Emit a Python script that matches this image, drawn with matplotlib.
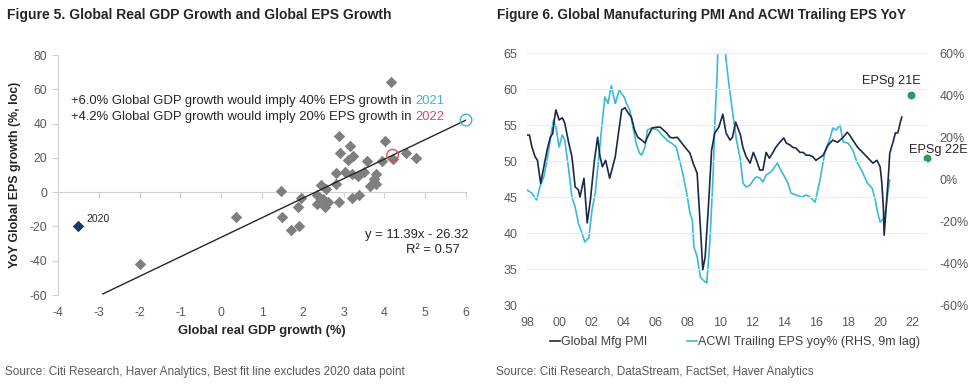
import matplotlib
matplotlib.use("Agg")
import matplotlib.pyplot as plt
from matplotlib.ticker import FuncFormatter, FixedLocator

plt.rcParams['font.family'] = ['Liberation Sans', 'DejaVu Sans']
plt.rcParams['axes.unicode_minus'] = False

# ---------------- Figure 5 data ----------------
gdp = [4.15, 2.89, 3.15, 2.91, 4.02, 3.12, 3.24, 3.58, 3.95, 4.20, 4.53, 4.78,
       2.81, 3.04, 3.20, 3.36, 3.50, 3.80, 3.75, 2.82, 2.45, 2.57, 3.65, 3.80,
       1.46, 2.36, 1.96, 2.35, 2.50, 2.62, 2.55, 2.89, 3.21, 3.38, 1.89, 1.50,
       1.71, 1.91, 0.37, -1.99]
eps = [64.5, 32.5, 27.0, 23.0, 29.6, 19.0, 21.0, 18.0, 18.0, 19.5, 23.0, 20.0,
       11.0, 12.0, 10.5, 9.5, 12.0, 10.5, 7.5, 5.0, 4.3, 1.7, 3.5, 4.6,
       0.5, -1.5, -3.5, -7.0, -4.0, -5.5, -8.7, -5.8, -3.2, -1.7, -8.5, -14.5,
       -22.0, -20.0, -14.5, -42.0]
gdp_2020, eps_2020 = -3.5, -20.0
fit_slope, fit_icpt = 11.39, -26.32
fit_x = [-2.9, 6.0]
gdp_2021, gdp_2022 = 6.0, 4.2
x_ticks5 = [-4, -3, -2, -1, 0, 1, 2, 3, 4, 5, 6]
y_ticks5 = [-60, -40, -20, 0, 20, 40, 60, 80]

# ---------------- Figure 6 data ----------------
pmi_t = [1998.0, 1998.15, 1998.3, 1998.5, 1998.65, 1998.85, 1999.05, 1999.25, 1999.45, 1999.6,
         1999.7, 1999.8, 2000.0, 2000.2, 2000.35, 2000.6, 2000.8, 2001.0, 2001.2, 2001.3,
         2001.55, 2001.75, 2001.95, 2002.2, 2002.4, 2002.55, 2002.7, 2002.9, 2003.15, 2003.5,
         2003.7, 2003.9, 2004.1, 2004.3, 2004.5, 2004.7, 2004.9, 2005.15, 2005.35, 2005.5,
         2005.8, 2006.1, 2006.3, 2006.5, 2006.7, 2006.9, 2007.1, 2007.35, 2007.5, 2007.85,
         2008.15, 2008.35, 2008.6, 2008.7, 2008.85, 2008.95, 2009.1, 2009.3, 2009.5, 2009.7,
         2009.95, 2010.2, 2010.4, 2010.65, 2010.8, 2011.0, 2011.3, 2011.45, 2011.65, 2011.9,
         2012.1, 2012.3, 2012.5, 2012.7, 2012.9, 2013.1, 2013.3, 2013.5, 2013.75, 2014.0,
         2014.15, 2014.4, 2014.55, 2014.75, 2015.0, 2015.2, 2015.4, 2015.6, 2015.8, 2016.0,
         2016.2, 2016.45, 2016.75, 2017.05, 2017.35, 2017.7, 2017.95, 2018.1, 2018.3, 2018.6,
         2018.95, 2019.25, 2019.55, 2019.8, 2020.0, 2020.1, 2020.2, 2020.25, 2020.35, 2020.5,
         2020.6, 2020.8, 2020.95, 2021.1, 2021.25, 2021.35]
pmi_v = [53.6, 53.6, 52.0, 50.6, 50.1, 46.9, 49.2, 51.5, 53.3, 53.8,
         55.7, 57.1, 55.7, 56.0, 55.3, 52.5, 50.6, 46.4, 46.0, 45.0,
         47.6, 41.4, 44.6, 50.1, 53.3, 50.6, 49.2, 50.1, 47.6, 50.6,
         53.9, 57.1, 57.4, 56.7, 56.1, 54.3, 53.3, 52.9, 52.5, 53.3,
         54.6, 54.7, 54.7, 54.3, 53.9, 53.3, 53.2, 53.3, 52.9, 51.9,
         51.1, 49.7, 48.3, 44.6, 39.0, 34.9, 36.7, 43.6, 51.5, 53.9,
         54.7, 56.5, 53.9, 52.9, 53.3, 55.4, 53.6, 51.9, 50.6, 49.7,
         51.2, 50.1, 48.75, 48.75, 51.2, 50.4, 51.1, 51.9, 52.6, 53.2,
         52.5, 52.2, 51.9, 51.8, 51.2, 51.2, 50.8, 50.8, 50.6, 50.1,
         50.4, 50.8, 52.2, 52.9, 52.6, 53.3, 54.0, 53.6, 52.9, 51.9,
         51.1, 50.4, 49.7, 50.1, 49.2, 47.1, 43.6, 39.7, 42.8, 47.4,
         51.1, 52.6, 53.9, 53.9, 55.3, 56.1]
acwi_t = [1998.0, 1998.3, 1998.6, 1998.8, 1999.05, 1999.25, 1999.45, 1999.65, 1999.8, 2000.0,
          2000.2, 2000.35, 2000.6, 2000.8, 2001.0, 2001.2, 2001.4, 2001.6, 2001.85, 2002.05,
          2002.25, 2002.5, 2002.7, 2002.85, 2003.05, 2003.25, 2003.5, 2003.75, 2004.05, 2004.2,
          2004.4, 2004.6, 2004.8, 2005.0, 2005.15, 2005.35, 2005.5, 2005.75, 2006.15, 2006.4,
          2006.7, 2007.0, 2007.3, 2007.5, 2007.7, 2007.95, 2008.15, 2008.3, 2008.4, 2008.6,
          2008.8, 2008.95, 2009.2, 2009.4, 2009.6, 2009.7, 2009.85, 2010.0, 2010.2, 2010.4,
          2010.6, 2010.85, 2011.05, 2011.3, 2011.45, 2011.65, 2011.9, 2012.1, 2012.3, 2012.5,
          2012.7, 2012.9, 2013.1, 2013.3, 2013.6, 2013.8, 2014.05, 2014.25, 2014.45, 2014.75,
          2015.1, 2015.4, 2015.7, 2015.95, 2016.25, 2016.55, 2016.9, 2017.05, 2017.25, 2017.5,
          2017.7, 2018.0, 2018.3, 2018.55, 2018.9, 2019.2, 2019.5, 2019.7, 2019.85, 2020.0,
          2020.2, 2020.35, 2020.5, 2020.6]
acwi_v = [-5.2, -6.7, -10.0, -3.8, 1.0, 9.0, 18.6, 28.0, 24.8, 15.2,
          21.0, 18.6, 4.3, -8.6, -13.3, -21.0, -25.2, -30.0, -28.0, -14.8,
          -6.7, 12.4, 28.0, 39.0, 36.0, 44.5, 36.0, 42.4, 39.0, 36.0,
          33.0, 24.8, 17.0, 12.4, 11.4, 15.2, 23.3, 24.3, 23.3, 21.0,
          18.6, 17.1, 15.2, 9.0, 2.9, -6.7, -16.2, -19.5, -32.4, -37.0,
          -46.7, -48.0, -49.5, -29.0, 2.9, 26.7, 50.5, 95.0, 85.0, 56.7,
          43.8, 29.5, 18.6, 9.0, -1.9, -3.8, -2.9, -0.5, 1.0, 0.5,
          -1.4, 1.9, 2.9, 4.3, 7.6, 4.3, 1.0, -1.9, -6.7, -7.6,
          -8.6, -7.6, -9.0, -11.0, -0.5, 12.4, 20.0, 24.3, 23.3, 25.7,
          17.6, 17.1, 13.8, 8.1, 3.3, -1.9, -4.3, -10.0, -16.2, -20.5,
          -19.0, -14.8, -5.2, -0.5]
eps_est_t = [2021.93, 2022.92]
eps_est_v = [40.0, 10.0]
eps_est_lbl = ["EPSg 21E", "EPSg 22E"]
x_ticks6 = [1998, 2000, 2002, 2004, 2006, 2008, 2010, 2012, 2014, 2016, 2018, 2020, 2022]
x_labels6 = ["98", "00", "02", "04", "06", "08", "10", "12", "14", "16", "18", "20", "22"]
y_ticks6 = [30, 35, 40, 45, 50, 55, 60, 65]
y_ticks6r = [-60, -40, -20, 0, 20, 40, 60]

GRAY_TXT = '#595959'
AX_GRAY = '#d0d0d0'

W, H = 976, 388
fig = plt.figure(figsize=(W / 100, H / 100), dpi=100)

def fx(px):
    return px / W

def fy(py):
    return 1 - py / H

# ================= Figure 5 =================
ax1 = fig.add_axes([fx(58), fy(295), fx(466) - fx(58), fy(55) - fy(295)])
ax1.set_xlim(-4, 6)
ax1.set_ylim(-60, 80)
ax1.scatter(gdp, eps, marker='D', s=34, color='#7f7f7f', linewidths=0, zorder=3)
ax1.scatter([gdp_2020], [eps_2020], marker='D', s=34, color='#1f3864', linewidths=0, zorder=3)
ax1.annotate("2020", (gdp_2020, eps_2020), xytext=(6, 2), textcoords='offset points',
             fontsize=7.5, color='#262626', va='bottom', ha='left')
fit_y = [fit_slope * x + fit_icpt for x in fit_x]
ax1.plot(fit_x, fit_y, color='#262626', lw=1.0, zorder=4)
ax1.scatter([gdp_2021], [fit_slope * gdp_2021 + fit_icpt], s=70, facecolors='none',
            edgecolors='#3fb4d8', linewidths=1.0, zorder=5, clip_on=False)
ax1.scatter([gdp_2022], [fit_slope * gdp_2022 + fit_icpt], s=70, facecolors='none',
            edgecolors='#d0505a', linewidths=1.0, zorder=5)

t1 = ax1.text(-3.68, 53, "+6.0% Global GDP growth would imply 40% EPS growth in ",
              fontsize=9.4, color='#262626', va='center', ha='left')
ax1.annotate("2021", xy=(1, 0.5), xycoords=t1, va='center', ha='left',
             fontsize=9.4, color='#3fb4d8')
t2 = ax1.text(-3.68, 43.6, "+4.2% Global GDP growth would imply 20% EPS growth in ",
              fontsize=9.4, color='#262626', va='center', ha='left')
ax1.annotate("2022", xy=(1, 0.5), xycoords=t2, va='center', ha='left',
             fontsize=9.4, color='#d0505a')
ax1.text(6.05, -25, "y = 11.39x - 26.32", fontsize=9.4, color='#262626', ha='right', va='center')
ax1.text(5.2, -34, "R\u00b2 = 0.57", fontsize=9.4, color='#262626', ha='center', va='center')

for s in ['right', 'bottom']:
    ax1.spines[s].set_visible(False)
ax1.spines['left'].set_color(AX_GRAY)
ax1.spines['top'].set_position(('data', 0))
ax1.spines['top'].set_color(AX_GRAY)
ax1.xaxis.set_ticks_position('both')
ax1.set_xticks(x_ticks5)
ax1.set_yticks(y_ticks5)
ax1.tick_params(axis='x', which='both', top=True, bottom=False, labeltop=False, labelbottom=True,
                direction='in', length=4, color=AX_GRAY, labelsize=8.8, labelcolor=GRAY_TXT, pad=9)
ax1.tick_params(axis='y', direction='out', length=4, color=AX_GRAY, labelsize=8.8,
                labelcolor=GRAY_TXT, pad=4)
ax1.set_xlabel("Global real GDP growth (%)", fontsize=9.3, fontweight='bold', color='#262626', labelpad=4)
ax1.set_ylabel("YoY Global EPS growth (%, loc)", fontsize=8.9, fontweight='bold', color='#262626',
               labelpad=6)

fig.text(fx(7), fy(15), "Figure 5. Global Real GDP Growth and Global EPS Growth",
         fontsize=10.0, fontweight='bold', color='#262626', ha='left', va='center')
fig.text(fx(5), fy(372), "Source: Citi Research, Haver Analytics, Best fit line excludes 2020 data point",
         fontsize=8.5, color=GRAY_TXT, ha='left', va='center')

# ================= Figure 6 =================
ax2 = fig.add_axes([fx(527), fy(305), fx(927) - fx(527), fy(53) - fy(305)])
ax2.set_xlim(1998, 2022.92)
ax2.set_ylim(30, 65)
ax3 = ax2.twinx()
ax3.set_ylim(-60, 60)

ax2.yaxis.set_major_locator(FixedLocator(y_ticks6))
ax2.grid(axis='y', color='#ececec', lw=0.8)
ax2.set_axisbelow(True)
l_pmi, = ax2.plot(pmi_t, pmi_v, color='#1c2848', lw=1.2, zorder=3, label="Global Mfg PMI")
l_eps, = ax3.plot(acwi_t, acwi_v, color='#3cb8d8', lw=1.2, zorder=2,
                  label="ACWI Trailing EPS yoy% (RHS, 9m lag)")
ax2.set_zorder(ax3.get_zorder() + 1)
ax2.patch.set_visible(False)

ax3.scatter(eps_est_t, eps_est_v, s=22, color='#2e9a5c', zorder=5, clip_on=False)
ax3.annotate(eps_est_lbl[0], (eps_est_t[0], eps_est_v[0]), xytext=(-14, 10),
             textcoords='offset points', ha='center', va='center', fontsize=9.2, color='#262626',
             annotation_clip=False)
ax3.annotate(eps_est_lbl[1], (eps_est_t[1], eps_est_v[1]), xytext=(8, 6),
             textcoords='offset points', ha='center', va='center', fontsize=9.2, color='#262626',
             annotation_clip=False)

for a in (ax2, ax3):
    for s in a.spines.values():
        s.set_visible(False)
ax2.set_xticks(x_ticks6)
ax2.set_xticklabels(x_labels6)
ax2.tick_params(axis='both', length=0, labelsize=9, labelcolor=GRAY_TXT)
ax2.tick_params(axis='x', pad=9)
ax2.tick_params(axis='y', pad=7)
ax3.set_yticks(y_ticks6r)
ax3.yaxis.set_major_formatter(FuncFormatter(lambda v, p: f"{int(v)}%"))
ax3.tick_params(axis='y', length=0, labelsize=9, labelcolor=GRAY_TXT, pad=9)

leg = fig.legend(handles=[l_pmi, l_eps], loc='center', bbox_to_anchor=(fx(735), fy(342)),
                 ncol=2, frameon=False, fontsize=9, handlelength=0.8, handletextpad=0.1,
                 columnspacing=3.2, labelcolor='#404040')

fig.text(fx(497), fy(15), "Figure 6. Global Manufacturing PMI And ACWI Trailing EPS YoY",
         fontsize=9.8, fontweight='bold', color='#262626', ha='left', va='center')
fig.text(fx(496), fy(372), "Source: Citi Research, DataStream, FactSet, Haver Analytics",
         fontsize=8.5, color=GRAY_TXT, ha='left', va='center')

fig.savefig("out.png", dpi=100)
